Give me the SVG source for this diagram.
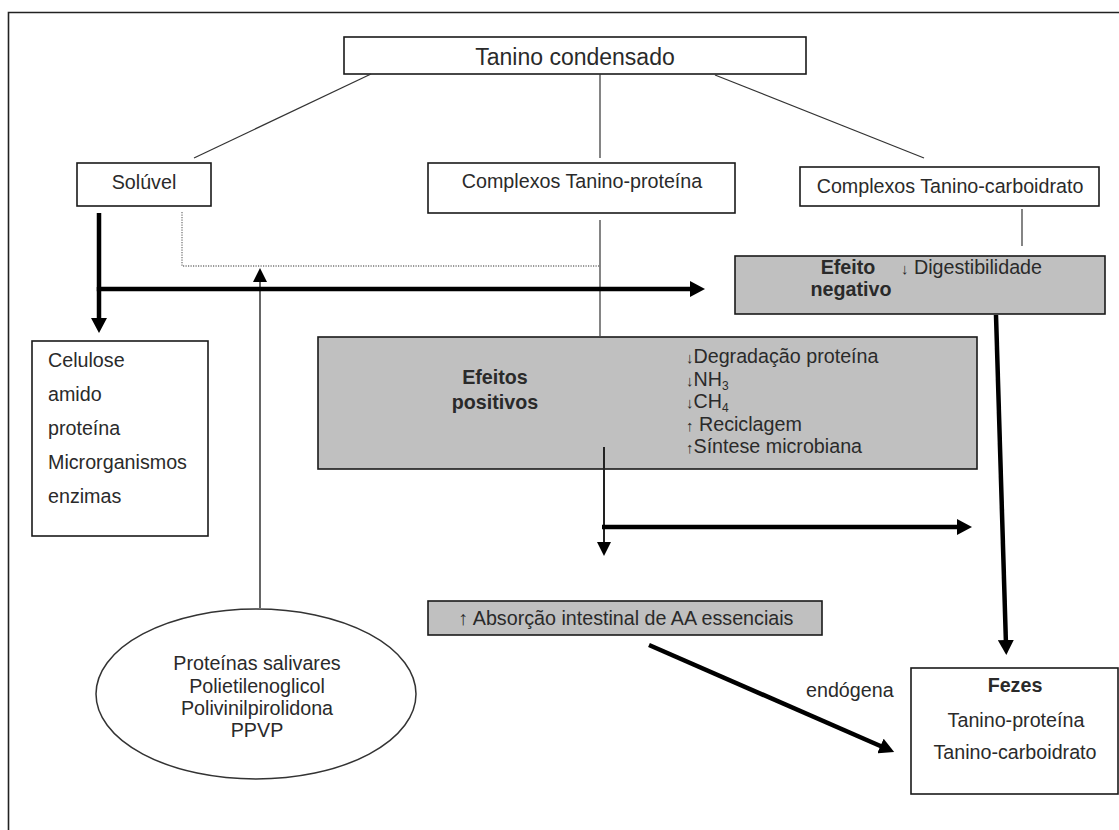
<svg xmlns="http://www.w3.org/2000/svg" width="1119" height="830" viewBox="0 0 1119 830">
<style>
text{font-family:"Liberation Sans",Arial,"DejaVu Sans",sans-serif;font-size:19.7px;fill:#2a2a2a}
.b{font-weight:bold}
.m{text-anchor:middle}
.box{fill:#fff;stroke:#1a1a1a;stroke-width:1.6}
.gbox{fill:#c0c0c0;stroke:#1a1a1a;stroke-width:1.6}
.thin{stroke:#333;stroke-width:1.2;fill:none}
.thick{stroke:#000;stroke-width:4.5;fill:none}
.arr{font-size:15px;fill:#2a2a2a}
.sub{font-size:12px}
</style>
<defs>
<marker id="ah" markerUnits="userSpaceOnUse" markerWidth="16" markerHeight="16" refX="5" refY="8" orient="auto"><path d="M0,0 L15,8 L0,16 z" fill="#000"/></marker>
<marker id="as" markerUnits="userSpaceOnUse" markerWidth="14" markerHeight="14" refX="4" refY="7" orient="auto"><path d="M0,0 L14,7 L0,14 z" fill="#000"/></marker>
</defs>
<rect width="1119" height="830" fill="#fff"/>
<path d="M8.5,830 V12.5 H1119" fill="none" stroke="#222" stroke-width="1.6"/>

<g id="tanino">
<rect class="box" x="344" y="37" width="462" height="37"/>
<text class="m" x="575" y="65" style="font-size:23px">Tanino condensado</text>
</g>
<g id="soluvel">
<rect class="box" x="77" y="163" width="134" height="43"/>
<text class="m" x="144" y="189">Solúvel</text>
</g>
<g id="tanino-proteina">
<rect class="box" x="428" y="163" width="307" height="50"/>
<text class="m" x="582" y="188">Complexos Tanino-proteína</text>
</g>
<g id="tanino-carboidrato">
<rect class="box" x="800" y="167" width="299" height="39"/>
<text class="m" x="950" y="193">Complexos Tanino-carboidrato</text>
</g>
<g id="efeito-negativo">
<rect class="gbox" x="735" y="256" width="370" height="58"/>
<text class="b m" x="848" y="274">Efeito</text>
<text class="b m" x="851" y="296">negativo</text>
<text x="901" y="274"><tspan class="arr">↓</tspan> Digestibilidade</text>
</g>
<g id="celulose">
<rect class="box" x="32" y="341" width="176" height="195"/>
<text x="48" y="367">Celulose</text>
<text x="48" y="401">amido</text>
<text x="48" y="435">proteína</text>
<text x="48" y="469">Microrganismos</text>
<text x="48" y="503">enzimas</text>
</g>
<g id="efeitos-positivos">
<rect class="gbox" x="318" y="337" width="659" height="132"/>
<text class="b m" x="495" y="384">Efeitos</text>
<text class="b m" x="495" y="409">positivos</text>
<text x="686" y="363"><tspan class="arr">↓</tspan>Degradação proteína</text>
<text x="686" y="386"><tspan class="arr">↓</tspan>NH<tspan class="sub" dy="4">3</tspan></text>
<text x="686" y="408"><tspan class="arr">↓</tspan>CH<tspan class="sub" dy="4">4</tspan></text>
<text x="686" y="431"><tspan class="arr">↑</tspan> Reciclagem</text>
<text x="686" y="453"><tspan class="arr">↑</tspan>Síntese microbiana</text>
</g>
<g id="absorcao">
<rect class="gbox" x="428" y="601" width="394" height="34"/>
<text class="m" x="626" y="625">↑ Absorção intestinal de AA essenciais</text>
</g>
<g id="aditivos">
<ellipse cx="256" cy="694" rx="160" ry="85" fill="#fff" stroke="#333" stroke-width="1.5"/>
<text class="m" x="257" y="670">Proteínas salivares</text>
<text class="m" x="257" y="693">Polietilenoglicol</text>
<text class="m" x="257" y="715">Polivinilpirolidona</text>
<text class="m" x="257" y="737">PPVP</text>
</g>
<g id="endogena-label">
<text x="806" y="697">endógena</text>
</g>
<g id="fezes">
<rect class="box" x="911" y="668" width="207" height="126"/>
<text class="b m" x="1015" y="692">Fezes</text>
<text class="m" x="1016" y="727">Tanino-proteína</text>
<text class="m" x="1015" y="759">Tanino-carboidrato</text>
</g>

<g id="connectors">
<line class="thin" x1="371" y1="74" x2="194" y2="158"/>
<line class="thin" x1="600" y1="74" x2="600" y2="158" stroke-width="1.5"/>
<line class="thin" x1="715" y1="75" x2="924" y2="158"/>
<line class="thin" x1="1022" y1="209" x2="1022" y2="246"/>
<line class="thin" x1="600" y1="220" x2="600" y2="336" stroke-width="1.5"/>
<path d="M182,212 V266 H600" fill="none" stroke="#777" stroke-width="1.3" stroke-dasharray="1.2,1.3"/>
<line x1="260" y1="608" x2="260" y2="278" stroke="#555" stroke-width="1.8" marker-end="url(#as)"/>
<path class="thick" d="M99,213 V289 H695" marker-end="url(#ah)"/>
<line class="thick" x1="99" y1="287" x2="99" y2="323" marker-end="url(#ah)"/>
<line x1="604" y1="447" x2="604" y2="546" stroke="#222" stroke-width="2" marker-end="url(#as)"/>
<line class="thick" x1="602" y1="527" x2="962" y2="527" marker-end="url(#ah)"/>
<line class="thick" x1="996" y1="315" x2="1006" y2="645" marker-end="url(#ah)"/>
<line class="thick" x1="649" y1="645" x2="885" y2="748" stroke-width="5" marker-end="url(#ah)"/>
</g>
</svg>
